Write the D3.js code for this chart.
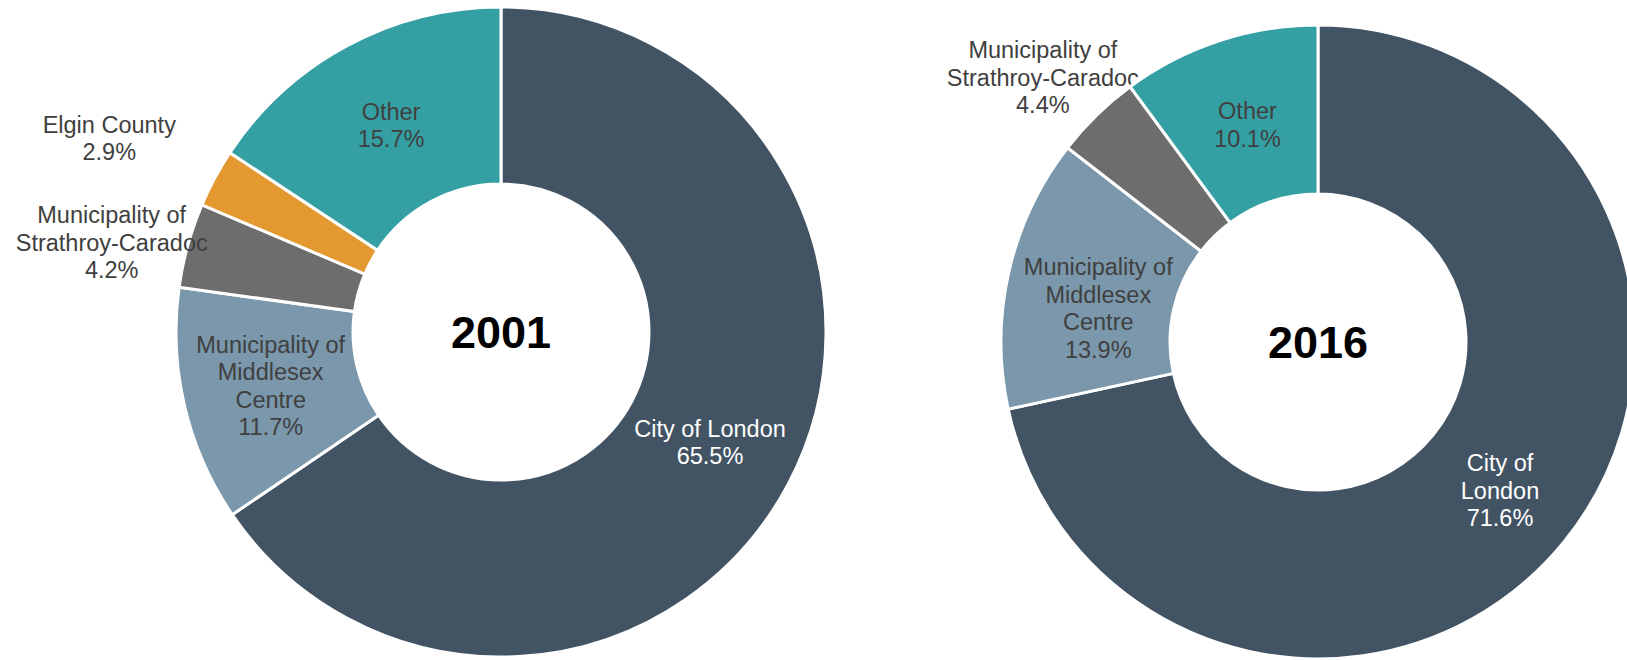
<!DOCTYPE html>
<html>

<head>
    <title>Commuter origin donuts</title>
    <meta charset="utf-8">
    <script src="https://cdn.jsdelivr.net/npm/d3@7"></script>
    <style>
        body { margin: 0; background: #fff; }
    </style>
</head>

<body>
    <svg width="1627" height="660" font-family="'Liberation Sans', Arial, sans-serif"></svg>
</body>
<script>
    // data
    const categories2001 = ["City of London", "Municipality of Middlesex Centre", "Municipality of Strathroy-Caradoc", "Elgin County", "Other"];
    const values2001 = [65.5, 11.7, 4.2, 2.9, 15.7];
    const lines2001 = [["City of London"], ["Municipality of", "Middlesex", "Centre"], ["Municipality of", "Strathroy-Caradoc"], ["Elgin County"], ["Other"]];

    const categories2016 = ["City of London", "Municipality of Middlesex Centre", "Municipality of Strathroy-Caradoc", "Other"];
    const values2016 = [71.6, 13.9, 4.4, 10.1];
    const lines2016 = [["City of", "London"], ["Municipality of", "Middlesex", "Centre"], ["Municipality of", "Strathroy-Caradoc"], ["Other"]];

    const years = ["2001", "2016"];

    var color = d3.scaleOrdinal()
        .domain(["City of London", "Municipality of Middlesex Centre", "Municipality of Strathroy-Caradoc", "Elgin County", "Other"])
        .range(["#425364", "#7a97ab", "#6d6d6d", "#e3992f", "#34a0a4"]);

    var svg = d3.select("svg");
    var lh = 27.5;

    // layout of each donut, small slices get their label outside
    var charts = [
        { year: years[0], cats: categories2001, vals: values2001, lines: lines2001, cx: 501, cy: 332, ro: 325, ri: 148,
          outside: { "Municipality of Strathroy-Caradoc": [1, 19], "Elgin County": [-35, -2] },
          nudge: { "Other": [2, 2] }, outsideBelow: false },
        { year: years[1], cats: categories2016, vals: values2016, lines: lines2016, cx: 1318, cy: 342, ro: 317, ri: 148,
          outside: { "Municipality of Strathroy-Caradoc": [2, 20] },
          nudge: { "Municipality of Middlesex Centre": [7, 18], "Other": [2, 4], "City of London": [1, 3] }, outsideBelow: true }
    ];

    charts.forEach(function (c) {
        var data = c.cats.map(function (k, i) { return { name: k, value: c.vals[i], lines: c.lines[i] }; });
        var pie = d3.pie().sort(null).value(function (d) { return d.value; });
        var arcs = pie(data);
        var arc = d3.arc().innerRadius(c.ri).outerRadius(c.ro);
        var outerArc = d3.arc().innerRadius(c.ro + 80).outerRadius(c.ro + 80);
        var tr = "translate(" + c.cx + "," + c.cy + ")";

        var gOut, gSlices, gIn;
        if (c.outsideBelow) {
            gOut = svg.append("g").attr("transform", tr);
            gSlices = svg.append("g").attr("transform", tr);
        } else {
            gSlices = svg.append("g").attr("transform", tr);
            gOut = svg.append("g").attr("transform", tr);
        }
        gIn = svg.append("g").attr("transform", tr);

        gSlices.selectAll("path")
            .data(arcs)
            .enter().append("path")
            .attr("d", arc)
            .attr("fill", function (d) { return color(d.data.name); })
            .attr("stroke", "#fff")
            .attr("stroke-width", 3);

        arcs.forEach(function (d) {
            var isOut = !!c.outside[d.data.name];
            var p = isOut ? outerArc.centroid(d) : arc.centroid(d);
            var shift = isOut ? c.outside[d.data.name] : (c.nudge[d.data.name] || [0, 0]);
            var txt = d.data.lines.concat([d.data.value.toFixed(1) + "%"]);
            var n = txt.length;
            var t = (isOut ? gOut : gIn).append("text")
                .attr("text-anchor", "middle")
                .attr("font-size", 23.5)
                .attr("fill", d.data.name === "City of London" ? "#ffffff" : "#404040");
            txt.forEach(function (s, i) {
                t.append("tspan")
                    .attr("x", p[0] + shift[0])
                    .attr("y", p[1] + shift[1] + (i - (n - 1) / 2) * lh + 8)
                    .text(s);
            });
        });

        gIn.append("text")
            .attr("text-anchor", "middle")
            .attr("font-size", 45)
            .attr("font-weight", "bold")
            .attr("fill", "#000")
            .attr("y", 16)
            .text(c.year);
    });
</script>

</html>
